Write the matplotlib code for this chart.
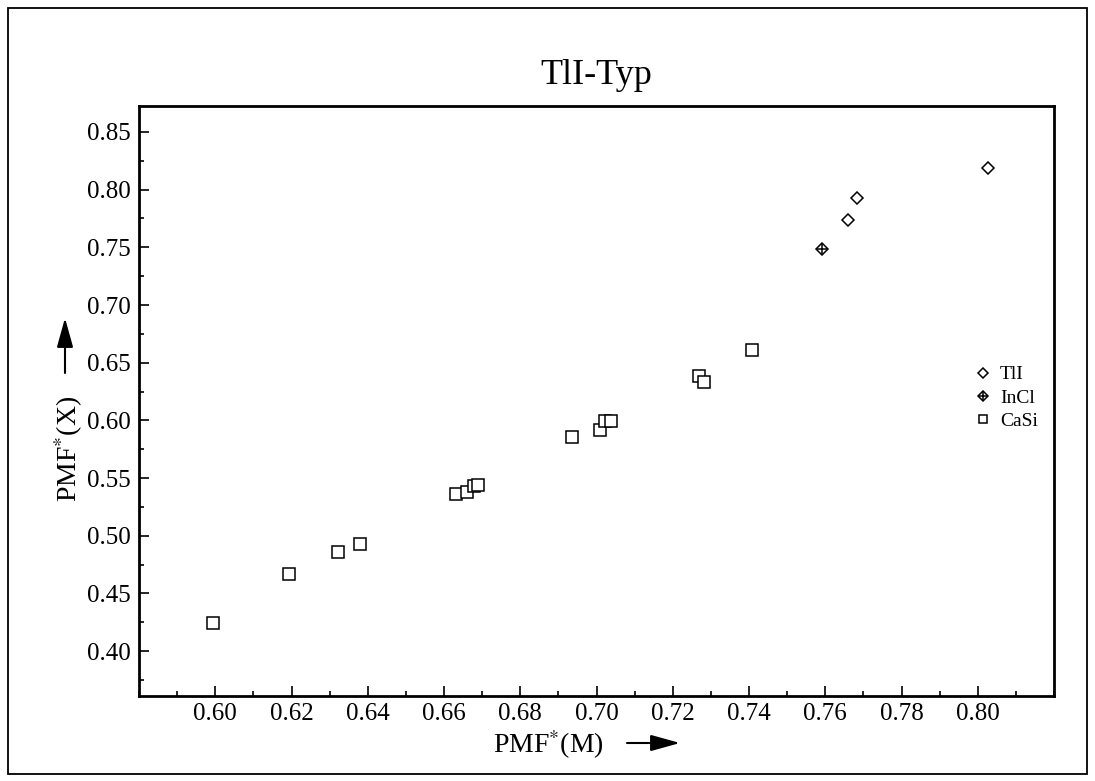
import matplotlib
matplotlib.use("Agg")
import matplotlib.pyplot as plt
from matplotlib.patches import Rectangle, FancyArrowPatch
from matplotlib.ticker import MultipleLocator, FormatStrFormatter
import numpy as np

# data
casi_m = [0.5995, 0.6194, 0.6322, 0.6380, 0.6631, 0.6661, 0.6679, 0.6690,
          0.6935, 0.7010, 0.7023, 0.7037, 0.7270, 0.7283, 0.7409]
casi_x = [0.424, 0.467, 0.4856, 0.4931, 0.5359, 0.5380, 0.5430, 0.5442,
          0.5854, 0.5916, 0.5995, 0.5991, 0.6382, 0.6336, 0.6606]
tli_m = [0.7659, 0.7683, 0.8026]
tli_x = [0.7735, 0.7930, 0.8190]
incl_m = [0.7591]
incl_x = [0.7485]
x_ticks = np.round(np.arange(0.60, 0.801, 0.02), 2)
y_ticks = np.round(np.arange(0.40, 0.851, 0.05), 2)

plt.rcParams["font.family"] = ["Liberation Serif", "DejaVu Serif"]
plt.rcParams["mathtext.fontset"] = "stix"

W, H = 1095, 781
fig = plt.figure(figsize=(W / 100, H / 100), dpi=100)
ax = fig.add_axes([139 / W, 1 - 696 / H, (1054 - 139) / W, (696 - 106) / H])

# figure frame
fig.add_artist(Rectangle((8 / W, 1 - 774 / H), (1087 - 8) / W, (774 - 8) / H,
                         transform=fig.transFigure, fill=False, lw=1.3, color="black"))

mk = dict(linestyle="none", color="black", markerfacecolor="white", mew=1.1)
h_tli, = ax.plot(tli_m, tli_x, marker="D", markersize=6.5, label="TlI", **mk)
h_in1, = ax.plot(incl_m, incl_x, marker="D", markersize=6.5, **mk)
h_in2, = ax.plot(incl_m, incl_x, marker="+", markersize=9, color="black",
                 linestyle="none", mew=1.1)
h_casi, = ax.plot(casi_m, casi_x, marker="s", markersize=8, label="CaSi", **mk)

ax.set_xlim(0.58, 0.82)
ax.set_ylim(0.3611, 0.8725)
ax.set_xticks(x_ticks)
ax.set_yticks(y_ticks)
ax.xaxis.set_minor_locator(MultipleLocator(0.01))
ax.yaxis.set_minor_locator(MultipleLocator(0.025))
ax.xaxis.set_major_formatter(FormatStrFormatter("%.2f"))
ax.yaxis.set_major_formatter(FormatStrFormatter("%.2f"))
ax.tick_params(which="both", direction="in", top=False, right=False, labelsize=18)
ax.tick_params(which="major", length=7, width=1.2)
ax.tick_params(which="minor", length=3.5, width=1.2)
ax.tick_params(axis="y", pad=6)
ax.tick_params(axis="x", pad=5)
for s in ax.spines.values():
    s.set_linewidth(2.0)

leg = ax.legend([h_tli, (h_in1, h_in2), h_casi], ["TlI", "InCl", "CaSi"],
                loc="center left", bbox_to_anchor=(828 / 915, 1 - 292 / 590),
                frameon=False, fontsize=14, markerscale=0.75, handlelength=0.8,
                handletextpad=0.5, labelspacing=0.3, borderaxespad=0)

# title and axis labels with arrows
fig.text(596.5 / W, 1 - 75 / H, "TlI-Typ", ha="center", va="center", fontsize=26)
fig.text(548 / W, 1 - 745 / H, "PMF$^{*}$(M)", ha="center", va="center", fontsize=20)
fig.text(69 / W, 1 - 449 / H, "PMF$^{*}$(X)", ha="center", va="center",
         fontsize=20, rotation=90)
arrow = dict(arrowstyle="-|>,head_length=0.9,head_width=0.25", color="black",
             lw=1.5, shrinkA=0, shrinkB=0, mutation_scale=20)
fig.add_artist(FancyArrowPatch((627 / W, 1 - 743 / H), (680 / W, 1 - 743 / H),
                               transform=fig.transFigure, **arrow))
fig.add_artist(FancyArrowPatch((65 / W, 1 - 373 / H), (65 / W, 1 - 318 / H),
                               transform=fig.transFigure, **arrow))

fig.savefig("out.png", dpi=100)
